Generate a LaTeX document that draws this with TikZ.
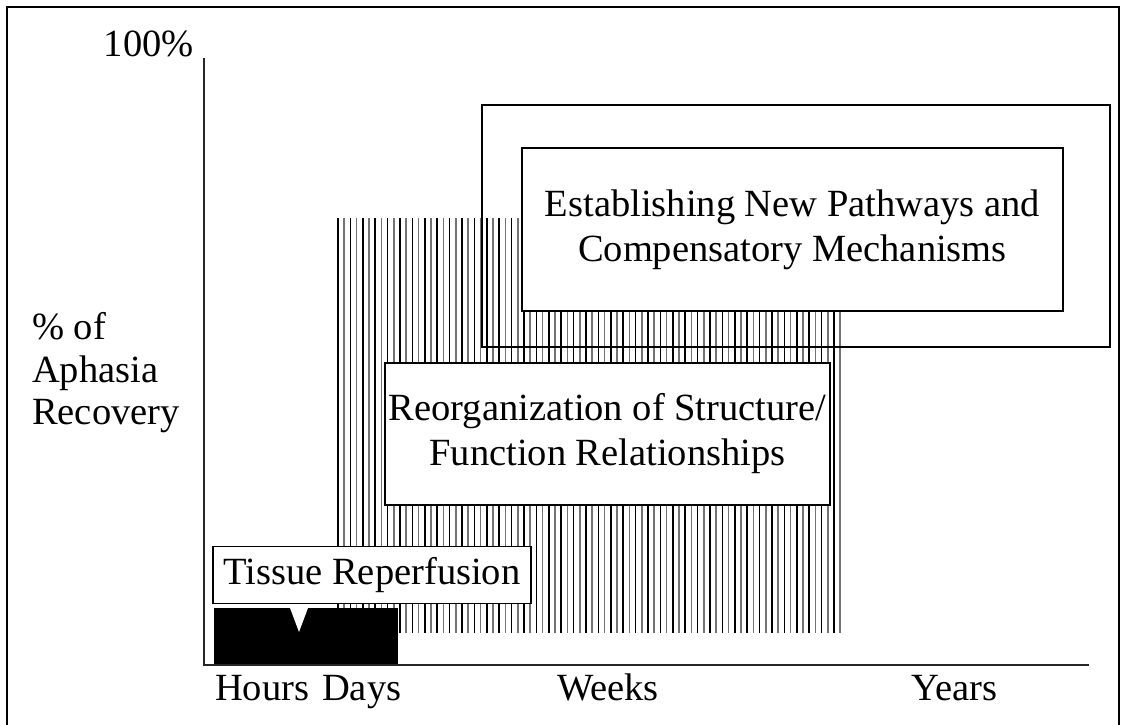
\documentclass[tikz,border=0pt]{standalone}
\usepackage{fontspec}
\setmainfont{Liberation Serif}
\usetikzlibrary{positioning}
\tikzset{
  axisline/.style={line width=1.6pt, black!85},
  frameline/.style={line width=2.6pt, black},
  hatchdark/.style={line width=1.6pt, black},
  hatchlight/.style={line width=1.6pt, black!55},
  labelbox/.style={draw, line width=1.5pt, fill=white, align=center, inner sep=0pt,
    font=\fontsize{38.5}{45}\selectfont},
  axistext/.style={inner sep=0pt, font=\fontsize{38.5}{42}\selectfont}
}

\begin{document}
\begin{tikzpicture}[x=1pt,y=-1pt]
    \useasboundingbox (0,0) rectangle (1125,725);

      % outer frame
      \draw[frameline] (7,725) -- (7,7) -- (1119,7) -- (1119,725);

      % hatched band (alternating dark and light strokes)
      \foreach \x in {338,350.4,...,845}{
        \draw[hatchdark] (\x,218) -- (\x,633);
      }
      \foreach \x in {344.2,356.6,...,845}{
        \draw[hatchlight] (\x,218) -- (\x,633);
      }

      % boxes
      \node[draw, line width=1.5pt, minimum width=628pt, minimum height=242pt, inner sep=0pt]
        (outerbox) at (796,226) {};
      \node[labelbox, minimum width=541pt, minimum height=163pt]
        (pathways) at (792.5,229.5) {Establishing New Pathways and\\Compensatory Mechanisms};
      \node[labelbox, minimum width=445pt, minimum height=142pt]
        (reorg) at (607.5,434) {Reorganization of Structure/\\Function Relationships};

      % black block with pointer notch
      \fill (214,608) rectangle (398,665);
      \fill[white] (290,608) -- (308,608) -- (299,632) -- cycle;
      \node[labelbox, minimum width=318pt, minimum height=57pt]
        (tissue) at (372,575) {Tissue Reperfusion};

      % axes
      \coordinate (ytop) at (204,58);
      \coordinate (origin) at (204,665);
      \coordinate (xend) at (1089,665);
      \draw[axisline] (ytop) -- (origin) -- (xend);

      % axis labels
      \node[axistext, anchor=base east] (hundred) at (194,57) {100\%};
      \node[axistext, anchor=base west] (ylabA) at (32,339) {\% of};
      \node[axistext, anchor=base west] (ylabB) at (32,382) {Aphasia};
      \node[axistext, anchor=base west] (ylabC) at (32,424) {Recovery};

      \node[axistext, anchor=base west] (hours) at (215,700) {Hours};
      \node[axistext, anchor=base west] (days) at (322,700) {Days};
      \node[axistext, anchor=base west] (weeks) at (557,700) {Weeks};
      \node[axistext, anchor=base west] (years) at (911,700) {Years};

    \end{tikzpicture}
\end{document}
